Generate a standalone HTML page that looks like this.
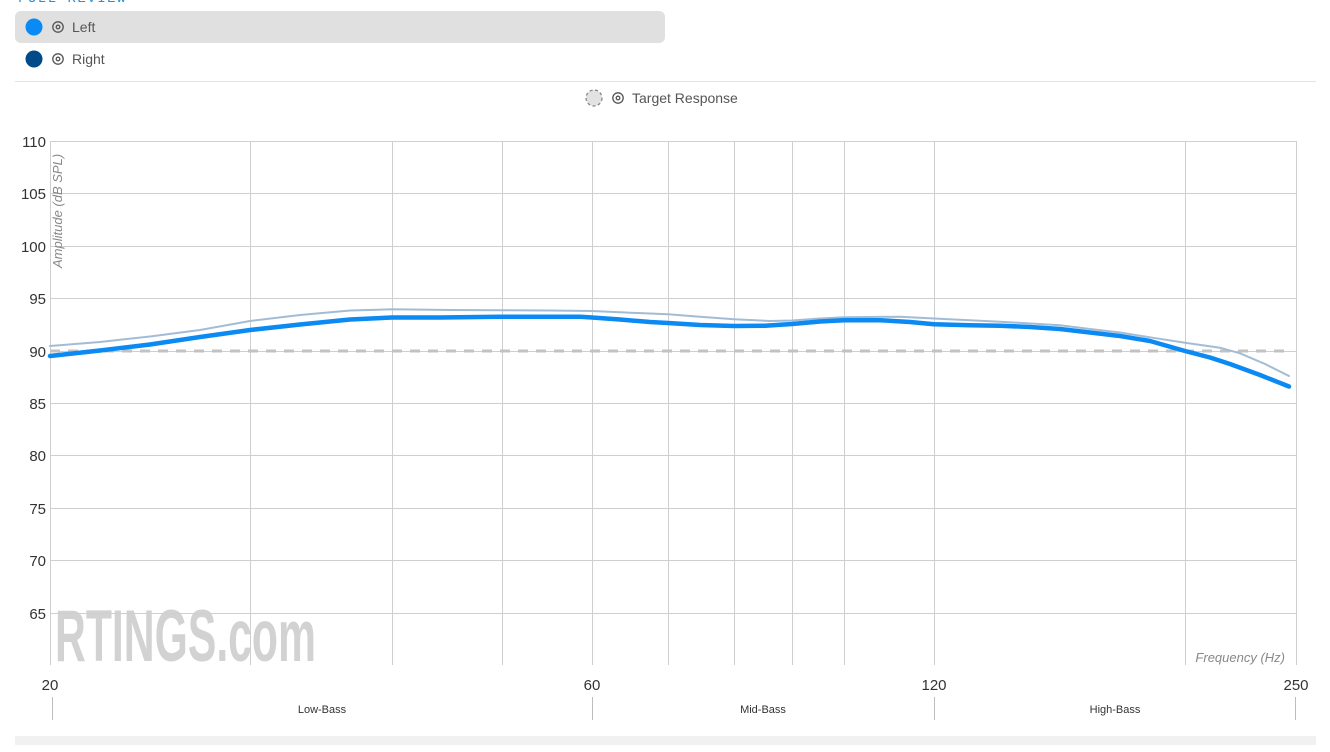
<!DOCTYPE html>
<html><head><meta charset="utf-8"><style>
html,body{margin:0;padding:0;background:#fff;}
body{width:1330px;height:752px;overflow:hidden;position:relative;font-family:"Liberation Sans",sans-serif;}
svg{position:absolute;left:0;top:0;}
</style></head><body>
<svg width="1330" height="752" viewBox="0 0 1330 752" xmlns="http://www.w3.org/2000/svg">
<!-- header -->
<text x="18" y="2" font-family="Liberation Mono, monospace" font-size="14" letter-spacing="1.5" fill="#2b8fd6">FULL REVIEW</text>
<rect x="15" y="11" width="650" height="32" rx="6" fill="#e0e0e0"/>
<circle cx="34" cy="27" r="8.5" fill="#0a8af5"/>
<g fill="none" stroke="#555" stroke-width="1.3">
<circle cx="58" cy="27" r="5.2"/><circle cx="58" cy="27" r="1.8"/>
<circle cx="58" cy="59" r="5.2"/><circle cx="58" cy="59" r="1.8"/>
<circle cx="618" cy="98" r="5.2"/><circle cx="618" cy="98" r="1.8"/>
</g>
<text x="72" y="32" font-size="14" fill="#555">Left</text>
<circle cx="34" cy="59" r="8.5" fill="#004a8a"/>
<text x="72" y="64" font-size="14" fill="#555">Right</text>
<line x1="15" y1="81.5" x2="1316" y2="81.5" stroke="#e3e3e3" stroke-width="1"/>
<circle cx="594" cy="98" r="8" fill="#e2e2e2" stroke="#888" stroke-width="1.3" stroke-dasharray="3 2.5"/>
<text x="632" y="103" font-size="14" fill="#555">Target Response</text>

<!-- watermark -->
<g transform="translate(55,661) scale(0.585,1)">
<text x="0" y="0" font-size="73" font-weight="bold" fill="#d2d2d2">RTINGS<tspan font-size="73">.com</tspan></text>
</g>

<!-- grid -->
<g stroke="#cfcfcf" stroke-width="1">
<line x1="50" y1="141.5" x2="1296" y2="141.5"/>
<line x1="50" y1="193.5" x2="1296" y2="193.5"/>
<line x1="50" y1="246.5" x2="1296" y2="246.5"/>
<line x1="50" y1="298.5" x2="1296" y2="298.5"/>
<line x1="50" y1="351.5" x2="1296" y2="351.5"/>
<line x1="50" y1="403.5" x2="1296" y2="403.5"/>
<line x1="50" y1="455.5" x2="1296" y2="455.5"/>
<line x1="50" y1="508.5" x2="1296" y2="508.5"/>
<line x1="50" y1="560.5" x2="1296" y2="560.5"/>
<line x1="50" y1="613.5" x2="1296" y2="613.5"/>
<line x1="50.5" y1="141" x2="50.5" y2="665"/>
<line x1="250.5" y1="141" x2="250.5" y2="665"/>
<line x1="392.5" y1="141" x2="392.5" y2="665"/>
<line x1="502.5" y1="141" x2="502.5" y2="665"/>
<line x1="592.5" y1="141" x2="592.5" y2="665"/>
<line x1="668.5" y1="141" x2="668.5" y2="665"/>
<line x1="734.5" y1="141" x2="734.5" y2="665"/>
<line x1="792.5" y1="141" x2="792.5" y2="665"/>
<line x1="844.5" y1="141" x2="844.5" y2="665"/>
<line x1="934.5" y1="141" x2="934.5" y2="665"/>
<line x1="1185.5" y1="141" x2="1185.5" y2="665"/>
<line x1="1296.5" y1="141" x2="1296.5" y2="665"/>
</g>

<!-- y labels -->
<g font-size="15" fill="#333" text-anchor="end">
<text x="46" y="147">110</text>
<text x="46" y="199">105</text>
<text x="46" y="252">100</text>
<text x="46" y="304">95</text>
<text x="46" y="357">90</text>
<text x="46" y="409">85</text>
<text x="46" y="461">80</text>
<text x="46" y="514">75</text>
<text x="46" y="566">70</text>
<text x="46" y="619">65</text>
</g>
<text transform="translate(62,268) rotate(-90)" font-size="13" font-style="italic" fill="#888">Amplitude (dB SPL)</text>
<text x="1285" y="662" font-size="13" font-style="italic" fill="#888" text-anchor="end">Frequency (Hz)</text>

<!-- target -->
<line x1="50" y1="351" x2="1290" y2="351" stroke="#c2c2c2" stroke-width="3" stroke-dasharray="10 8"/>

<!-- curves -->
<polyline fill="none" stroke="#a3bcd5" stroke-width="2" stroke-linejoin="round" stroke-linecap="round" points="50,346 100,342 150,336.5 200,330 250,321 300,315 350,310.5 392,309.3 450,310 502,310.2 550,310.5 592,311 620,312.3 650,313.5 668,314.3 700,316.8 734,319.3 770,321 792,320.5 820,318.5 844,317.3 900,316.7 934,318.5 1000,321.7 1060,325.2 1090,329 1120,332.5 1150,337.3 1185,342.7 1220,347.7 1240,353.3 1265,364 1289,376"/>
<polyline fill="none" stroke="#0a8af2" stroke-width="4.5" stroke-linejoin="round" stroke-linecap="round" points="50,356 100,350.5 150,344.5 200,337 250,330 300,324.5 350,319.5 392,317.5 440,317.5 500,316.8 550,316.8 580,316.8 592,317.5 620,319.5 650,322 668,323 700,325 734,326 765,325.7 792,324 820,321.5 844,320.3 880,320.2 910,322 934,324.3 970,325.3 1000,325.7 1030,327 1060,329 1090,332.5 1120,336 1150,341 1185,351 1210,357.5 1230,364 1260,375 1289,386.5"/>

<!-- x labels -->
<g font-size="15" fill="#333" text-anchor="middle">
<text x="50" y="690">20</text>
<text x="592" y="690">60</text>
<text x="934" y="690">120</text>
<text x="1296" y="690">250</text>
</g>
<g stroke="#bdbdbd" stroke-width="1">
<line x1="52.5" y1="697" x2="52.5" y2="720"/>
<line x1="592.5" y1="697" x2="592.5" y2="720"/>
<line x1="934.5" y1="697" x2="934.5" y2="720"/>
<line x1="1295.5" y1="697" x2="1295.5" y2="720"/>
</g>
<g font-size="11" fill="#333" text-anchor="middle">
<text x="322" y="713">Low-Bass</text>
<text x="763" y="713">Mid-Bass</text>
<text x="1115" y="713">High-Bass</text>
</g>
<rect x="15" y="736" width="1301" height="9" fill="#f1f1f1"/>
</svg>
</body></html>
